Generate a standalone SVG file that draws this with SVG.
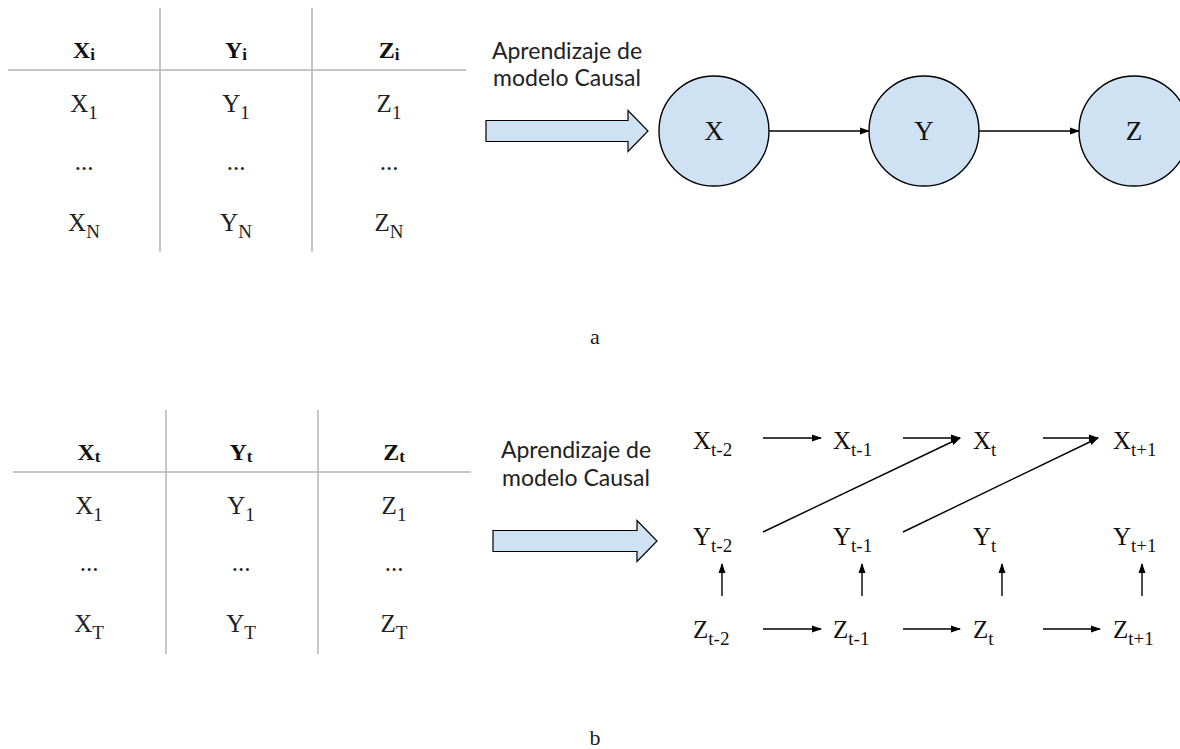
<svg xmlns="http://www.w3.org/2000/svg" width="1180" height="749" viewBox="0 0 1180 749">
<style>
.grid{stroke:#b4b4b4;stroke-width:1.5;fill:none}
.cell{font-family:"Liberation Serif","DejaVu Serif",serif;font-size:25px;fill:#222;text-anchor:middle}
.head{font-family:"Liberation Serif","DejaVu Serif",serif;font-size:24px;font-weight:bold;fill:#111;text-anchor:middle}
.sub{font-size:19px}
.hsub{font-size:17px}
.lbl{font-family:Lato,"Open Sans",sans-serif;font-size:23px;fill:#222;text-anchor:middle}
.node{font-family:"Liberation Serif","DejaVu Serif",serif;font-size:25px;fill:#111}
.cnode{font-family:"Liberation Serif","DejaVu Serif",serif;font-size:27px;fill:#111;text-anchor:middle}
.circ{fill:#cfe2f3;stroke:#000;stroke-width:1.4}
.blk{fill:#cfe2f3;stroke:#000;stroke-width:1.2}
.edge{stroke:#000;stroke-width:1.4;fill:none;marker-end:url(#ah)}
.cap{font-family:"Liberation Serif","DejaVu Serif",serif;font-size:22px;fill:#222;text-anchor:middle}
</style>
<defs>
<marker id="ah" markerWidth="10" markerHeight="8" refX="9" refY="4" orient="auto" markerUnits="userSpaceOnUse">
<path d="M0,0.5 L10,4 L0,7.5 Z" fill="#000"/>
</marker>
</defs>
<rect width="1180" height="749" fill="#fff"/>

<g id="tableA">
<line class="grid" x1="160" y1="8" x2="160" y2="252"/>
<line class="grid" x1="312" y1="8" x2="312" y2="252"/>
<line class="grid" x1="8" y1="70" x2="466" y2="70"/>
<text class="head" x="84" y="58">X<tspan class="hsub" dy="2">i</tspan></text>
<text class="head" x="236" y="58">Y<tspan class="hsub" dy="2">i</tspan></text>
<text class="head" x="389" y="58">Z<tspan class="hsub" dy="2">i</tspan></text>
<text class="cell" x="84" y="112">X<tspan class="sub" dy="7">1</tspan></text>
<text class="cell" x="236" y="112">Y<tspan class="sub" dy="7">1</tspan></text>
<text class="cell" x="389" y="112">Z<tspan class="sub" dy="7">1</tspan></text>
<text class="cell" x="84" y="170">...</text>
<text class="cell" x="236" y="170">...</text>
<text class="cell" x="389" y="170">...</text>
<text class="cell" x="84" y="231">X<tspan class="sub" dy="7">N</tspan></text>
<text class="cell" x="236" y="231">Y<tspan class="sub" dy="7">N</tspan></text>
<text class="cell" x="389" y="231">Z<tspan class="sub" dy="7">N</tspan></text>
</g>

<g id="learnA">
<text class="lbl" x="567" y="59">Aprendizaje de</text>
<text class="lbl" x="567" y="86">modelo Causal</text>
<path class="blk" d="M486,120.5 H628 V110.5 L648,131 L628,151.5 V141.5 H486 Z"/>
</g>

<g id="nodeX"><circle class="circ" cx="714" cy="131" r="55"/><text class="cnode" x="714" y="140">X</text></g>
<g id="nodeY"><circle class="circ" cx="924" cy="131" r="55"/><text class="cnode" x="924" y="140">Y</text></g>
<g id="nodeZ"><circle class="circ" cx="1134" cy="131" r="55"/><text class="cnode" x="1134" y="140">Z</text></g>

<g id="edgesA">
<line class="edge" x1="769" y1="131" x2="869" y2="131"/>
<line class="edge" x1="979" y1="131" x2="1079" y2="131"/>
</g>

<text class="cap" x="595" y="344">a</text>

<g id="tableB">
<line class="grid" x1="166" y1="410" x2="166" y2="654"/>
<line class="grid" x1="318" y1="410" x2="318" y2="654"/>
<line class="grid" x1="13" y1="472" x2="471" y2="472"/>
<text class="head" x="89" y="460">X<tspan class="hsub" dy="2">t</tspan></text>
<text class="head" x="241" y="460">Y<tspan class="hsub" dy="2">t</tspan></text>
<text class="head" x="394" y="460">Z<tspan class="hsub" dy="2">t</tspan></text>
<text class="cell" x="89" y="514">X<tspan class="sub" dy="7">1</tspan></text>
<text class="cell" x="241" y="514">Y<tspan class="sub" dy="7">1</tspan></text>
<text class="cell" x="394" y="514">Z<tspan class="sub" dy="7">1</tspan></text>
<text class="cell" x="89" y="571">...</text>
<text class="cell" x="241" y="571">...</text>
<text class="cell" x="394" y="571">...</text>
<text class="cell" x="89" y="632">X<tspan class="sub" dy="7">T</tspan></text>
<text class="cell" x="241" y="632">Y<tspan class="sub" dy="7">T</tspan></text>
<text class="cell" x="394" y="632">Z<tspan class="sub" dy="7">T</tspan></text>
</g>

<g id="learnB">
<text class="lbl" x="576" y="458">Aprendizaje de</text>
<text class="lbl" x="576" y="486">modelo Causal</text>
<path class="blk" d="M493,530.5 H637 V520.5 L657,541 L637,561.5 V551.5 H493 Z"/>
</g>

<g id="dbn" class="node">
<text x="693" y="449">X<tspan class="sub" dy="7">t-2</tspan></text>
<text x="833" y="449">X<tspan class="sub" dy="7">t-1</tspan></text>
<text x="973" y="449">X<tspan class="sub" dy="7">t</tspan></text>
<text x="1113" y="449">X<tspan class="sub" dy="7">t+1</tspan></text>
<text x="693" y="545">Y<tspan class="sub" dy="7">t-2</tspan></text>
<text x="833" y="545">Y<tspan class="sub" dy="7">t-1</tspan></text>
<text x="973" y="545">Y<tspan class="sub" dy="7">t</tspan></text>
<text x="1113" y="545">Y<tspan class="sub" dy="7">t+1</tspan></text>
<text x="693" y="638">Z<tspan class="sub" dy="7">t-2</tspan></text>
<text x="833" y="638">Z<tspan class="sub" dy="7">t-1</tspan></text>
<text x="973" y="638">Z<tspan class="sub" dy="7">t</tspan></text>
<text x="1113" y="638">Z<tspan class="sub" dy="7">t+1</tspan></text>
</g>

<g id="edgesB">
<line class="edge" x1="763" y1="438" x2="821" y2="438"/>
<line class="edge" x1="903" y1="438" x2="960" y2="438"/>
<line class="edge" x1="1043" y1="438" x2="1098" y2="438"/>
<line class="edge" x1="763" y1="532" x2="960" y2="438"/>
<line class="edge" x1="903" y1="532" x2="1098" y2="438"/>
<line class="edge" x1="722" y1="596" x2="722" y2="564"/>
<line class="edge" x1="862" y1="596" x2="862" y2="564"/>
<line class="edge" x1="1002" y1="596" x2="1002" y2="564"/>
<line class="edge" x1="1142" y1="596" x2="1142" y2="564"/>
<line class="edge" x1="763" y1="629" x2="821" y2="629"/>
<line class="edge" x1="903" y1="629" x2="960" y2="629"/>
<line class="edge" x1="1043" y1="629" x2="1100" y2="629"/>
</g>

<text class="cap" x="595" y="745">b</text>
</svg>
